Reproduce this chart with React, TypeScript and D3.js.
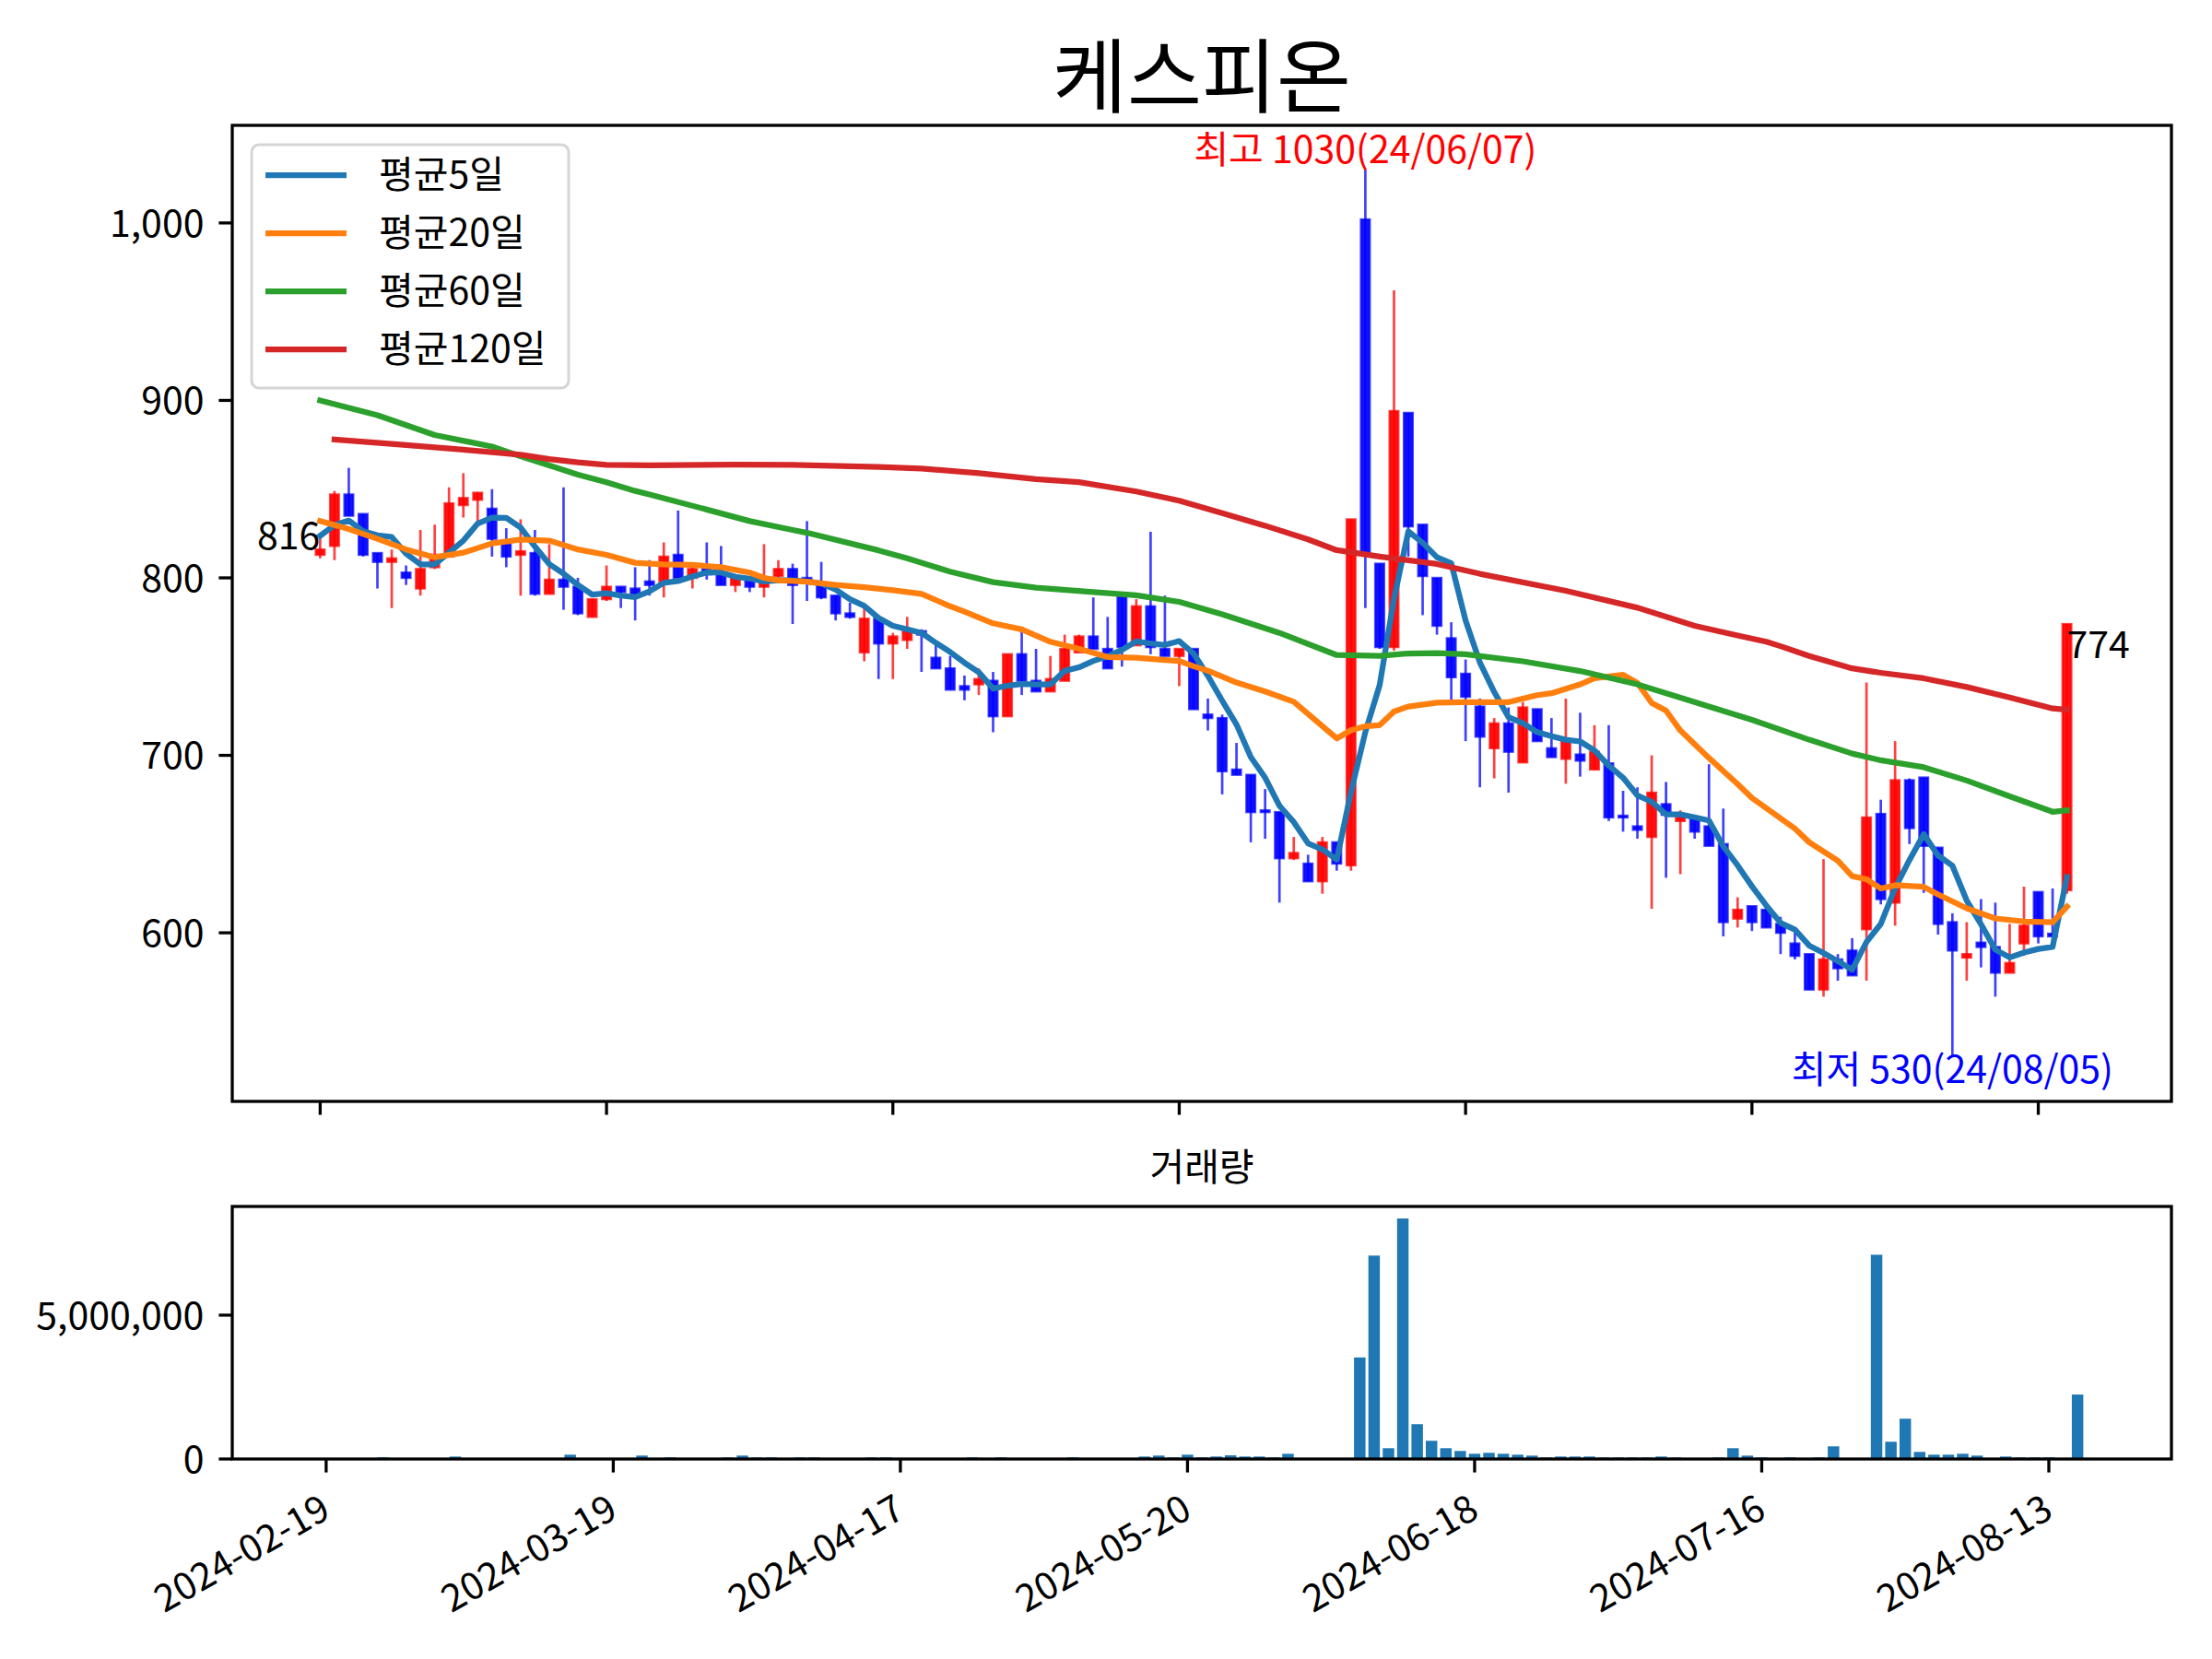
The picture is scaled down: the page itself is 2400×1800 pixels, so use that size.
import React from "react"
import * as d3 from "d3"

const W = 2400
const H = 1800
const MAIN = { left: 252, right: 2356, top: 136, bottom: 1195 }
const VOL = { left: 252, right: 2356, top: 1309, bottom: 1583 }
const FONT = '"Noto Sans CJK KR", "Noto Sans", sans-serif'
const FS = 41
const TICK = 14.6
const SPINE = 3.3

const title = "케스피온"
const volTitle = "거래량"
const highLabel = "최고 1030(24/06/07)"
const lowLabel = "최저 530(24/08/05)"

// 일봉 (2024-02-19 ~ 2024-08-16, 123 거래일)
const opens = [
    813, 818, 847, 836, 814, 809, 803, 794, 806, 812, 841, 844, 839, 819, 813, 814, 791, 799, 795, 778,
    788, 795, 794, 798, 798, 813, 800, 805, 802, 796, 800, 795, 801, 805, 800, 796, 790, 780, 758, 777,
    763, 765, 770, 755, 749, 739, 740, 742, 722, 757, 742, 736, 742, 758, 767, 760, 790, 762, 784, 760,
    756, 760, 723, 721, 692, 689, 669, 668, 642, 639, 629, 651, 638, 1002, 808, 761, 893, 830, 800, 766,
    746, 727.5, 704, 718, 696, 726, 704, 698, 700.5, 692, 695.5, 666, 660, 654, 672.5, 663, 664, 660, 650, 608,
    615, 613, 605, 594, 588, 568, 585, 590, 602, 667, 617, 686, 687.5, 648, 606, 586, 594.5, 592, 577.5, 594,
    623, 599.5, 624,
]
const highs = [
    823, 849, 862, 836, 814, 816, 807, 827, 830, 851, 859, 848, 850, 828, 833, 827, 819, 851, 800, 788,
    807, 795, 806, 810, 820, 838, 806, 820, 818, 800, 800, 819, 810, 808, 832, 809, 790, 786, 783, 777,
    769, 778, 771, 762, 756, 745, 749, 747, 757, 772, 760, 756, 768, 768, 789, 778, 790, 788, 826, 790,
    760, 760, 732, 723, 707, 689, 681, 668, 654, 644, 654, 651, 833, 1030, 808, 962, 893, 830, 800, 775,
    754, 732, 721, 727, 730, 726, 721, 732, 724, 717, 717, 680, 682, 700, 685, 669, 664, 695, 670, 620,
    615, 617, 609, 600, 588, 641.5, 588, 597, 741, 675, 708, 687, 687.5, 648, 611, 606, 619, 617, 605, 626,
    623, 625, 774,
]
const lows = [
    811, 810, 835, 812, 794, 783, 796, 790, 805, 812, 834, 831, 812, 806, 790, 790, 791, 782, 779, 778,
    787, 783, 776, 790, 789, 800, 794, 799, 796, 792, 792, 789, 797, 774, 787, 788, 776, 777, 753, 743,
    743, 760, 747, 749, 737, 731, 734, 713, 722, 734, 736, 736, 742, 758, 760, 749, 750, 762, 757, 756,
    739, 726, 714, 678, 689, 651, 653, 617, 641, 629, 622, 635, 635, 783, 760, 759, 812, 779, 768, 730,
    708, 682, 687, 679, 696, 708, 699, 684, 688, 692, 663, 657, 653, 613.5, 631, 633, 653, 649, 598, 603,
    601, 603, 588, 585, 568, 564, 573, 576, 573, 616, 604, 650, 622.5, 599, 530, 573, 580.5, 564, 577.5, 587,
    594, 597, 622,
]
const closes = [
    816, 847, 835, 813, 809, 811, 800, 805, 813, 842, 845, 848, 822, 812, 815, 791, 799, 795, 780, 788,
    795, 792, 791, 796, 812, 800, 805, 802, 796, 800, 795, 797, 805, 796, 797, 789, 780, 778, 777, 763,
    767, 770, 768, 749, 737, 737, 743, 722, 757, 742, 736, 743, 760, 767, 760, 749, 761, 784, 761, 756,
    760, 726, 721, 691, 689, 668, 668, 642, 645, 629, 651, 639, 833, 814, 761, 894, 829, 801, 773, 744,
    733, 710.5, 718, 702, 727, 708, 699, 708, 697, 702, 665, 665, 658, 679, 666.5, 665, 657, 649, 606, 613,
    606, 603, 600, 587, 568, 585, 580, 576, 665, 619, 686, 659, 649, 605, 590, 588, 592, 577.5, 583, 604,
    598, 598, 774,
]
const volumes = [
    15000, 30000, 10000, 10000, 55000, 10000, 10000, 30000, 30000, 85000,
    10000, 25000, 25000, 10000, 10000, 10000, 10000, 150000, 25000, 10000,
    10000, 10000, 120000, 30000, 55000, 30000, 30000, 30000, 55000, 120000,
    55000, 55000, 30000, 55000, 55000, 10000, 30000, 30000, 55000, 55000,
    30000, 10000, 30000, 10000, 10000, 55000, 10000, 55000, 10000, 30000,
    30000, 10000, 55000, 10000, 10000, 30000, 30000, 85000, 120000, 55000,
    150000, 54000, 86000, 129000, 86000, 86000, 54000, 182000, 21000, 21000,
    21000, 21000, 3530000, 7070000, 375000, 8360000, 1210000, 633000, 375000, 279000,
    182000, 214000, 182000, 150000, 118000, 54000, 86000, 86000, 86000, 54000,
    54000, 54000, 54000, 86000, 54000, 21000, 10000, 54000, 375000, 118000,
    54000, 21000, 54000, 21000, 54000, 440000, 21000, 10000, 7100000, 600000,
    1400000, 247000, 150000, 150000, 182000, 118000, 21000, 86000, 54000, 54000,
    54000, 10000, 2240000,
]

// 이동평균
const ma5Head = [823.7, 829.7, 832.3, 826.3]
const ma20Points: [number, number][] = [
    [0, 832], [2, 827.5], [4, 822], [6, 816], [8, 811.6], [10, 814.2], [12, 819.4], [14, 821.6],
    [16, 821], [18, 816], [20, 813], [22, 808.5], [24, 807.6], [26, 807.3], [28, 806], [30, 803],
    [31, 800], [32, 798.6], [34, 797.8], [36, 796], [38, 794.7], [40, 793], [42, 791], [44, 784],
    [45, 781], [47, 774.4], [49, 771], [51, 764], [53, 760], [55, 755.4], [57, 755], [59, 753.7],
    [60, 753.2], [61, 750.2], [62, 747.7], [64, 741], [66, 736], [68, 730.2], [70, 716.4], [71, 709.5],
    [72, 714.2], [73, 716.4], [74, 717], [75, 724.7], [76, 727.5], [78, 729.7], [80, 730], [82, 730],
    [83, 730], [85, 733.9], [86, 735], [88, 740], [89, 743.4], [91, 745.4], [92, 740.8], [93, 729.5],
    [94, 725.2], [95, 714], [97, 698.5], [99, 683.8], [100, 676], [103, 658.7], [104, 651], [106, 640.6],
    [107, 631.9], [108, 630.2], [109, 625], [110, 626.8], [112, 625.9], [113, 621.6], [115, 613.8],
    [117, 608.1], [119, 606.4], [121, 606], [122, 614.7],
]
const ma60Points: [number, number][] = [
    [0, 900], [4, 891.7], [8, 880.5], [12, 874], [14, 868.5], [16, 863.4], [18, 858.2], [20, 853.9],
    [22, 849], [23, 847], [27, 838.5], [30, 832], [33, 827], [34, 825.4], [39, 815.5], [41, 811],
    [44, 803.5], [47, 797.6], [50, 794.5], [54, 792], [57, 790.2], [60, 786.5], [63, 779.5], [67, 769],
    [71, 756.5], [74, 756], [76, 757.4], [78, 757.6], [80, 757], [84, 753], [88, 747.5], [92, 740],
    [96, 730], [100, 720], [104, 708.8], [107, 701], [109, 697.2], [112, 693.3], [115, 685.8],
    [118, 676.9], [121, 668.2], [122, 669],
]
const ma120Points: [number, number][] = [
    [1, 878], [5, 875.5], [10, 872.2], [14, 869.4], [16, 866.9], [18, 865.1], [20, 863.7], [23, 863.4],
    [29, 863.8], [33, 863.7], [39, 862.5], [42, 861.6], [46, 859], [50, 855.6], [53, 853.9], [57, 848.7],
    [60, 843.5], [63, 836.5], [66, 829.4], [69, 821.7], [71, 815.6], [74, 812], [78, 807.8], [81, 802.3],
    [87, 792.7], [92, 783.2], [96, 773], [99, 767.5], [101, 764], [102, 761.5], [104, 756], [107, 749],
    [109, 746.5], [112, 743.4], [115, 738.5], [118, 732.6], [121, 726.4], [122, 725.7],
]

const tickIndex = [0, 20, 40, 60, 80, 100, 120]
const tickLabels = ["2024-02-19", "2024-03-19", "2024-04-17", "2024-05-20", "2024-06-18", "2024-07-16", "2024-08-13"]
const priceTicks = [600, 700, 800, 900, 1000]
const volTicks = [0, 5000000]

const legendItems = [
    { label: "평균5일", color: "#1f77b4" },
    { label: "평균20일", color: "#ff7f0e" },
    { label: "평균60일", color: "#2ca02c" },
    { label: "평균120일", color: "#d62728" },
]

const UP = "#ff0000"
const DOWN = "#0000ff"

const App: React.FC = () => {
    const n = closes.length
    const xMain = d3.scaleLinear().domain([-6.14, 129.3]).range([MAIN.left, MAIN.right])
    const yMain = d3.scaleLinear().domain([505, 1055]).range([MAIN.bottom, MAIN.top])

    const span = n - 1 + 0.8
    const xVol = d3
        .scaleLinear()
        .domain([-0.4 - span * 0.05, n - 1 + 0.4 + span * 0.05])
        .range([VOL.left, VOL.right])
    const yVol = d3
        .scaleLinear()
        .domain([0, d3.max(volumes)! * 1.05])
        .range([VOL.bottom, VOL.top])

    const ma5: [number, number][] = closes.map((_, i) =>
        i < 4 ? [i, ma5Head[i]] : [i, d3.mean(closes.slice(i - 4, i + 1))!]
    )

    const line = d3
        .line<[number, number]>()
        .x(d => xMain(d[0]))
        .y(d => yMain(d[1]))

    const maSeries = [ma5, ma20Points, ma60Points, ma120Points]
    const bodyW = xMain(0.62) - xMain(0)
    const barW = xVol(0.8) - xVol(0)
    const fmt = d3.format(",")

    return (
        <svg
            width={W}
            height={H}
            style={{ position: "absolute", left: 0, top: 0, background: "#fff" }}
            fontFamily={FONT}
        >
            <rect x={0} y={0} width={W} height={H} fill="#fff" />

            <text x={(MAIN.left + MAIN.right) / 2} y={115} fontSize={88} textAnchor="middle">
                {title}
            </text>

            {/* 캔들 */}
            <g>
                {closes.map((c, i) => {
                    const o = opens[i]
                    const col = c >= o ? UP : DOWN
                    const x = xMain(i)
                    const top = yMain(Math.max(o, c))
                    const bot = yMain(Math.min(o, c))
                    return (
                        <g key={i}>
                            <line
                                x1={x}
                                x2={x}
                                y1={yMain(highs[i])}
                                y2={yMain(lows[i])}
                                stroke={col}
                                strokeOpacity={0.75}
                                strokeWidth={2.7}
                            />
                            <rect
                                x={x - bodyW / 2}
                                y={top}
                                width={bodyW}
                                height={Math.max(bot - top, 1)}
                                fill={col}
                                fillOpacity={0.93}
                                stroke={col}
                                strokeOpacity={0.72}
                                strokeWidth={2.4}
                            />
                        </g>
                    )
                })}
            </g>

            {/* 이동평균선 */}
            {maSeries.map((s, k) => (
                <path
                    key={k}
                    d={line(s)!}
                    fill="none"
                    stroke={legendItems[k].color}
                    strokeWidth={6.25}
                    strokeLinejoin="round"
                    strokeLinecap="square"
                />
            ))}

            <text x={xMain(0)} y={yMain(closes[0])} fontSize={FS} textAnchor="end">
                {closes[0]}
            </text>
            <text x={xMain(n - 1)} y={yMain(closes[n - 1]) + 37} fontSize={FS} textAnchor="start">
                {closes[n - 1]}
            </text>
            <text
                x={xMain(d3.maxIndex(highs))}
                y={yMain(d3.max(highs)!) - 7}
                fontSize={FS}
                textAnchor="middle"
                fill="red"
            >
                {highLabel}
            </text>
            <text
                x={xMain(d3.minIndex(lows))}
                y={yMain(d3.min(lows)!) + 28}
                fontSize={FS}
                textAnchor="middle"
                fill="blue"
            >
                {lowLabel}
            </text>

            {/* 범례 */}
            <g>
                <rect
                    x={MAIN.left + 21}
                    y={MAIN.top + 21}
                    width={344}
                    height={264}
                    rx={8}
                    fill="#fff"
                    fillOpacity={0.8}
                    stroke="#d5d5d5"
                    strokeWidth={3}
                />
                {legendItems.map((it, k) => {
                    const y = MAIN.top + 54 + k * 63
                    return (
                        <g key={k}>
                            <line x1={MAIN.left + 36} x2={MAIN.left + 124} y1={y} y2={y} stroke={it.color} strokeWidth={6.25} />
                            <text x={MAIN.left + 159} y={y + 14} fontSize={FS}>
                                {it.label}
                            </text>
                        </g>
                    )
                })}
            </g>

            {/* 가격 축 */}
            <rect
                x={MAIN.left}
                y={MAIN.top}
                width={MAIN.right - MAIN.left}
                height={MAIN.bottom - MAIN.top}
                fill="none"
                stroke="#000"
                strokeWidth={SPINE}
            />
            {priceTicks.map(t => (
                <g key={t}>
                    <line x1={MAIN.left - TICK} x2={MAIN.left} y1={yMain(t)} y2={yMain(t)} stroke="#000" strokeWidth={SPINE} />
                    <text x={MAIN.left - TICK - 16} y={yMain(t)} dy="0.36em" fontSize={FS} textAnchor="end">
                        {fmt(t)}
                    </text>
                </g>
            ))}
            {tickIndex.map(t => (
                <line
                    key={t}
                    x1={xMain(t)}
                    x2={xMain(t)}
                    y1={MAIN.bottom}
                    y2={MAIN.bottom + TICK}
                    stroke="#000"
                    strokeWidth={SPINE}
                />
            ))}

            {/* 거래량 */}
            <text x={(VOL.left + VOL.right) / 2} y={1281} fontSize={FS} textAnchor="middle">
                {volTitle}
            </text>
            {volumes.map((v, i) => (
                <rect
                    key={i}
                    x={xVol(i) - barW / 2}
                    y={yVol(v)}
                    width={barW}
                    height={yVol(0) - yVol(v)}
                    fill="#1f77b4"
                />
            ))}
            <rect
                x={VOL.left}
                y={VOL.top}
                width={VOL.right - VOL.left}
                height={VOL.bottom - VOL.top}
                fill="none"
                stroke="#000"
                strokeWidth={SPINE}
            />
            {volTicks.map(t => (
                <g key={t}>
                    <line x1={VOL.left - TICK} x2={VOL.left} y1={yVol(t)} y2={yVol(t)} stroke="#000" strokeWidth={SPINE} />
                    <text x={VOL.left - TICK - 16} y={yVol(t)} dy="0.36em" fontSize={FS} textAnchor="end">
                        {fmt(t)}
                    </text>
                </g>
            ))}
            {tickIndex.map((t, k) => (
                <g key={t}>
                    <line x1={xVol(t)} x2={xVol(t)} y1={VOL.bottom} y2={VOL.bottom + TICK} stroke="#000" strokeWidth={SPINE} />
                    <text
                        transform={`translate(${xVol(t) - 8},${VOL.bottom + TICK + 22}) rotate(-30)`}
                        dy="0.72em"
                        fontSize={FS}
                        textAnchor="end"
                    >
                        {tickLabels[k]}
                    </text>
                </g>
            ))}
        </svg>
    )
}

export default App
